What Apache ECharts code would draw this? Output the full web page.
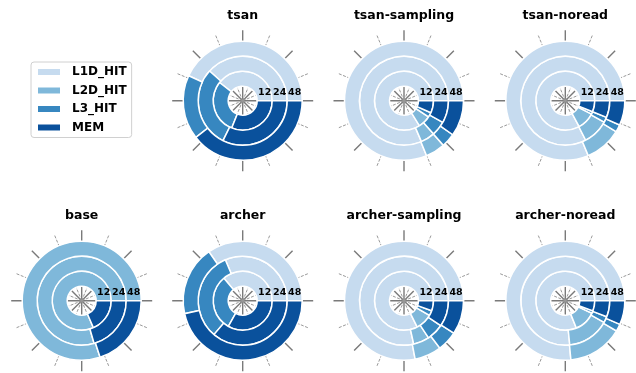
<!DOCTYPE html>
<html>
<head>
<meta charset="utf-8">
<script src="https://cdn.jsdelivr.net/npm/echarts@6/dist/echarts.min.js"></script>
<style>html,body{margin:0;background:#fff}#main{width:636px;height:373px}</style>
</head>
<body>
<div id="main"></div>
<script>
var levels = ['L1D_HIT', 'L2D_HIT', 'L3_HIT', 'MEM'];
var threads = ['12', '24', '48'];
var colors = ['#c6dbef', '#7fb8da', '#3787c0', '#0a519c'];

// share of accesses (%) per level, one value per thread count
var tsan = [
    [39.4, 38.4, 43.1],
    [0, 0, 0],
    [29.5, 29.3, 17.5],
    [31.1, 32.3, 39.4]
];
var tsanSampling = [
    [83.8, 81.4, 81.2],
    [6.9, 5.2, 5.3],
    [2.6, 5.3, 3.8],
    [6.7, 8.1, 9.7]
];
var tsanNoread = [
    [82.8, 82.6, 81.3],
    [9.7, 9.4, 10.0],
    [1.4, 1.9, 2.0],
    [6.1, 6.1, 6.7]
];
var base = [
    [0, 0, 0],
    [81.5, 79.5, 80.0],
    [0, 0, 0],
    [18.5, 20.5, 20.0]
];
var archer = [
    [36.1, 31.4, 34.6],
    [0, 0, 0],
    [30.8, 32.4, 18.9],
    [33.1, 36.2, 46.5]
];
var archerSampling = [
    [82.4, 78.5, 78.0],
    [9.3, 5.8, 7.3],
    [2.8, 6.2, 5.5],
    [5.5, 9.5, 9.2]
];
var archerNoread = [
    [81.1, 76.6, 76.5],
    [11.9, 15.3, 15.0],
    [1.4, 2.2, 2.0],
    [5.6, 5.9, 6.5]
];

var runs = ['tsan', 'tsan-sampling', 'tsan-noread', 'base', 'archer', 'archer-sampling', 'archer-noread'];
var runData = [tsan, tsanSampling, tsanNoread, base, archer, archerSampling, archerNoread];
var cells = [[1, 0], [2, 0], [3, 0], [0, 1], [1, 1], [2, 1], [3, 1]];
var colX = [81.7, 242.7, 404, 565.3];
var rowY = [100.7, 300.7];

var myChart = echarts.init(document.getElementById('main'));

var polar = [], angleAxis = [], radiusAxis = [], series = [], graphic = [];
runs.forEach(function (run, i) {
    var cx = colX[cells[i][0]], cy = rowY[cells[i][1]];
    // spokes / ticks
    polar.push({center: [cx, cy], radius: [0, 70.5]});
    angleAxis.push({
        polarIndex: 2 * i, type: 'value', min: 0, max: 360, interval: 45, startAngle: 0,
        axisLine: {show: false}, axisTick: {show: false}, axisLabel: {show: false},
        splitLine: {show: true, lineStyle: {color: '#7a7a7a', width: 1.4}},
        minorTick: {show: false, splitNumber: 2},
        minorSplitLine: {show: true, lineStyle: {color: '#9a9a9a', width: 1, type: [3, 1.5]}}
    });
    radiusAxis.push({
        polarIndex: 2 * i, type: 'value', min: 0, max: 1,
        axisLine: {show: false}, axisTick: {show: false}, axisLabel: {show: false},
        splitLine: {show: false}
    });
    // rings
    polar.push({center: [cx, cy], radius: [14.5, 59.5]});
    angleAxis.push({
        polarIndex: 2 * i + 1, type: 'value', min: 0, max: 100, startAngle: 0, clockwise: false,
        axisLine: {show: false}, axisTick: {show: false}, axisLabel: {show: false},
        splitLine: {show: false}
    });
    radiusAxis.push({
        polarIndex: 2 * i + 1, type: 'category', data: threads, z: 10,
        axisLine: {show: false}, axisTick: {show: false}, splitLine: {show: false},
        axisLabel: {interval: 0, hideOverlap: false, fontSize: 9.5, fontWeight: 'bold', color: '#000', margin: 3}
    });
    levels.forEach(function (lv, j) {
        series.push({
            type: 'bar', coordinateSystem: 'polar', polarIndex: 2 * i + 1,
            name: lv, stack: 'run' + i, data: runData[i][j],
            barCategoryGap: '0%',
            itemStyle: {color: colors[j], borderColor: '#fff', borderWidth: 1.5}
        });
    });
    graphic.push({
        type: 'text', x: cx, y: cy - 85,
        style: {text: run, fill: '#000', font: 'bold 12.5px "DejaVu Sans"', textAlign: 'center', textVerticalAlign: 'middle'}
    });
});

option = {
    animation: false,
    backgroundColor: '#fff',
    textStyle: {fontFamily: 'DejaVu Sans'},
    legend: {
        data: levels,
        orient: 'vertical',
        left: 31, top: 62,
        padding: [4, 5, 4, 5],
        itemWidth: 24, itemHeight: 8, itemGap: 6.5,
        icon: 'rect',
        borderColor: '#d0d0d0', borderWidth: 1, borderRadius: 3,
        selectedMode: false,
        textStyle: {color: '#000', fontSize: 12, fontWeight: 'bold', padding: [0, 0, 0, 6]}
    },
    polar: polar,
    angleAxis: angleAxis,
    radiusAxis: radiusAxis,
    series: series,
    graphic: graphic
};

myChart.setOption(option);
window.addEventListener("resize", function () {
    myChart.resize();
});
</script>
</body>
</html>
